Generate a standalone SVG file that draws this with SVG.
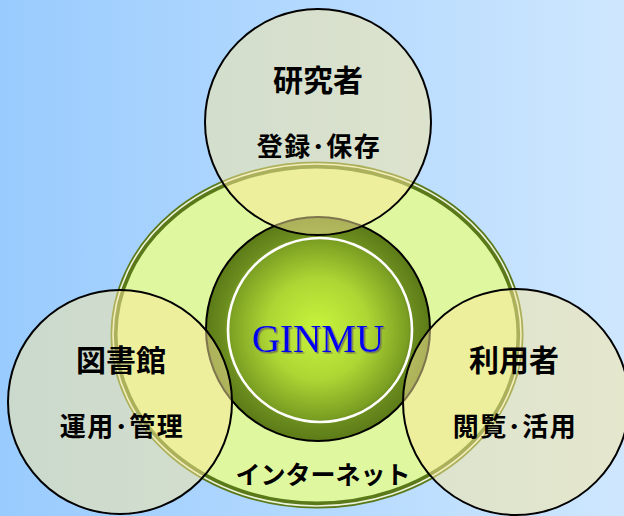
<svg xmlns="http://www.w3.org/2000/svg" width="624" height="516" viewBox="0 0 624 516">
<defs>
<linearGradient id="bg" x1="0" y1="0" x2="1" y2="0">
<stop offset="0" stop-color="#99cbfe"/>
<stop offset="1" stop-color="#cee7fe"/>
</linearGradient>
<radialGradient id="core" cx="0.5" cy="0.5" r="0.5">
<stop offset="0" stop-color="#c8f43c"/>
<stop offset="0.45" stop-color="#aed634"/>
<stop offset="0.8" stop-color="#7a9e22"/>
<stop offset="0.84" stop-color="#6c8d1f"/>
<stop offset="1" stop-color="#5c7b18"/>
</radialGradient>
<filter id="sh" x="-10%" y="-10%" width="130%" height="140%">
<feDropShadow dx="1.5" dy="1.5" stdDeviation="0.4" flood-color="#6e7050" flood-opacity="0.9"/>
</filter>
</defs>
<style>
.node{fill:#fce79c;fill-opacity:0.5;stroke:#000;stroke-width:2}
.t1{font-family:"Noto Sans CJK JP","Noto Sans CJK SC",sans-serif;font-weight:700;font-size:30px;fill:#000;text-anchor:middle}
.t2{font-family:"Noto Sans CJK JP","Noto Sans CJK SC",sans-serif;font-weight:700;font-size:26px;fill:#000;text-anchor:middle;letter-spacing:1.5px}
.t3{font-family:"Noto Sans CJK JP","Noto Sans CJK SC",sans-serif;font-weight:700;font-size:25px;fill:#000;text-anchor:middle}
</style>
<rect width="624" height="516" fill="url(#bg)"/>
<g id="internet">
<ellipse cx="317" cy="335" rx="203" ry="170" fill="#dff79f" stroke="#5a7a1a" stroke-width="7"/>
<ellipse cx="317" cy="335" rx="204" ry="171" fill="none" stroke="#eef3dc" stroke-width="1.6"/>
</g>
<g id="ginmu">
<circle cx="318" cy="329" r="112" fill="url(#core)" stroke="#000" stroke-width="2"/>
<circle cx="320" cy="330" r="92" fill="none" stroke="#fff" stroke-width="2.6"/>
<text x="318" y="352" text-anchor="middle" font-family="Liberation Serif, serif" font-size="39" fill="#0000ee" filter="url(#sh)">GINMU</text>
</g>
<g id="researcher">
<circle class="node" cx="318" cy="122" r="113"/>
<text class="t1" x="318" y="91">研究者</text>
<text class="t2" x="319" y="156">登録･保存</text>
</g>
<g id="library">
<circle class="node" cx="120" cy="402" r="112"/>
<text class="t1" x="121" y="371">図書館</text>
<text class="t2" x="122" y="436">運用･管理</text>
</g>
<g id="user">
<circle class="node" cx="516" cy="402" r="113"/>
<text class="t1" x="514" y="371">利用者</text>
<text class="t2" x="515" y="436">閲覧･活用</text>
</g>
<g id="internet-label">
<text class="t3" x="323" y="484">インターネット</text>
</g>
<g id="connectors"/>
</svg>
